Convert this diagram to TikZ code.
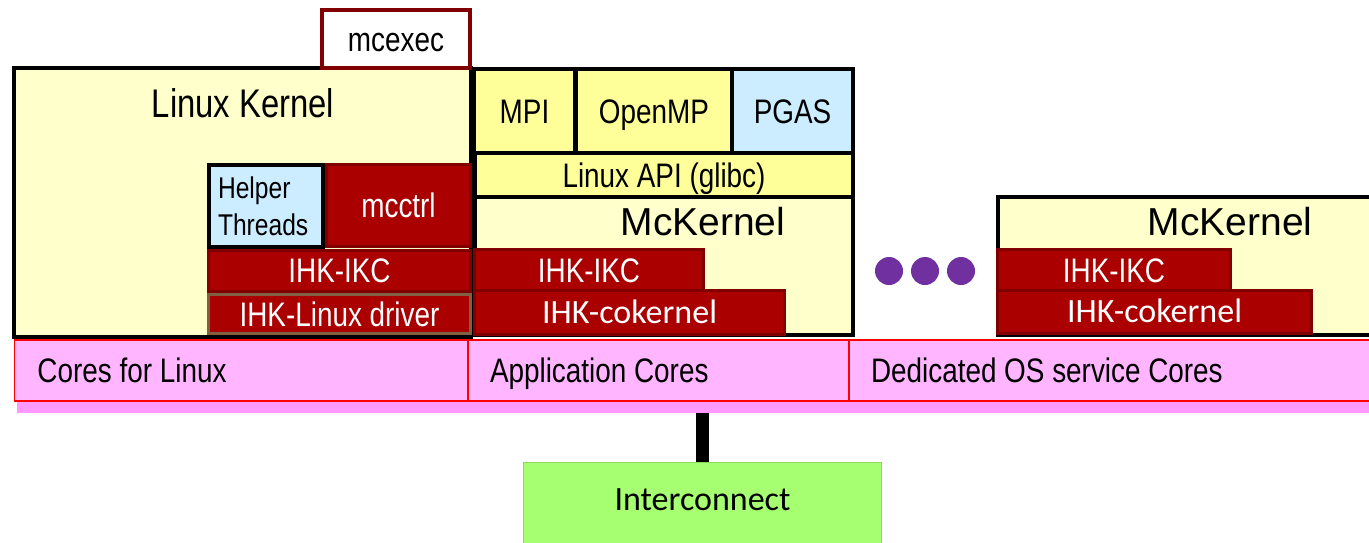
\documentclass[tikz,border=0pt]{standalone}
\usepackage{fontspec}
\setmainfont{Liberation Sans}
\newfontfamily\narrowfont[FakeStretch=0.82]{Liberation Sans}
\newfontfamily\califont{Carlito}
\usetikzlibrary{positioning}

\definecolor{kyellow}{HTML}{FFFFCC}
\definecolor{myellow}{HTML}{FFFF99}
\definecolor{hblue}{HTML}{CCECFF}
\definecolor{ihkred}{HTML}{AA0000}
\definecolor{ihkdark}{HTML}{800000}
\definecolor{drvbrown}{HTML}{806040}
\definecolor{corepink}{HTML}{FFB5FF}
\definecolor{shadowpink}{HTML}{FF99FF}
\definecolor{corered}{HTML}{FF0000}
\definecolor{dotpurple}{HTML}{7030A0}
\definecolor{icgreen}{HTML}{A6FF70}
\definecolor{icedge}{HTML}{8CD960}

\begin{document}
\begin{tikzpicture}[
  x = 1pt, y = -1pt,
  every node/.style = {inner sep = 0pt, outer sep = 0pt},
  narrow/.style = {font = \narrowfont\fontsize{34}{40}\selectfont,
                   text height = 24.3pt, text depth = 0pt},
  kbox/.style = {draw = black, line width = 4pt},
  ihk/.style = {narrow, fill = ihkred, draw = ihkdark, line width = 3pt, text = white},
  coker/.style = {ihk, font = \califont\fontsize{34}{40}\selectfont, text height = 21.6pt},
  title/.style = {font = \fontsize{39}{46}\selectfont, text height = 28pt, text depth = 0pt},
  cell/.style = {draw = corered, fill = corepink, line width = 1.5pt},
  dot/.style = {circle, fill = dotpurple, minimum size = 28pt},
  ]
  \useasboundingbox (0,0) rectangle (1369,542);
  \clip (0,0) rectangle (1369,542);

  % Linux side
  \node[kbox, fill = kyellow, minimum width = 457, minimum height = 269] (lk) at (242.5,202.5) {};
  \node[narrow, font = \narrowfont\fontsize{40}{46}\selectfont, text height = 28.6pt] (lktitle) at (243,103.5) {Linux Kernel};
  \node[narrow, draw = ihkdark, fill = white, line width = 4pt,
        minimum width = 148, minimum height = 58] (mcexec) at (396,39) {mcexec};
  \node[ihk, minimum width = 144, minimum height = 82] (mcctrl) at (398.5,205.5) {mcctrl};
  \node[kbox, fill = hblue, minimum width = 114, minimum height = 82, align = left, text width = 96pt,
        font = \narrowfont\fontsize{30}{37}\selectfont] (helper) at (266,206) {Helper\\Threads};
  \node[ihk, minimum width = 262, minimum height = 41] (ikcl) at (339.5,270.5) {IHK-IKC};
  \node[ihk, draw = drvbrown, minimum width = 262, minimum height = 39] (drv) at (339.5,314) {IHK-Linux driver};

  % application side
  \node[narrow, kbox, fill = myellow, minimum width = 101, minimum height = 84] (mpi) at (524.5,111) {MPI};
  \node[narrow, kbox, fill = myellow, minimum width = 156, minimum height = 84] (openmp) at (654,111) {OpenMP};
  \node[narrow, kbox, fill = hblue, minimum width = 121, minimum height = 84] (pgas) at (792.5,111) {PGAS};
  \node[narrow, kbox, fill = myellow, minimum width = 378, minimum height = 44] (api) at (664,175) {Linux API (glibc)};
  \node[kbox, fill = kyellow, minimum width = 378, minimum height = 138] (mck) at (664,266) {};
  \node[title] (mcktitle) at (703,221.5) {McKernel};
  \node[ihk, minimum width = 229, minimum height = 41] (ikcm) at (589,270) {IHK-IKC};
  \node[coker, minimum width = 310, minimum height = 44] (cokm) at (629.5,312.5) {IHK-cokernel};

  % dedicated side
  \foreach \i in {0,1,2}
    \node[dot] (dot\i) at (889+36*\i,271) {};
  \node[kbox, fill = kyellow, minimum width = 402, minimum height = 138] (mckr) at (1199,266) {};
  \node[title] (mckrtitle) at (1230,221.5) {McKernel};
  \node[ihk, minimum width = 233, minimum height = 41] (ikcr) at (1114,270) {IHK-IKC};
  \node[coker, minimum width = 314, minimum height = 43] (cokr) at (1154.5,312) {IHK-cokernel};

  % cores
  \node[fill = shadowpink, minimum width = 1400, minimum height = 12, anchor = north west] (shadow) at (17,401) {};
  \node[cell, minimum width = 453.5, minimum height = 61] (clin) at (241.25,370.5) {};
  \node[cell, minimum width = 381, minimum height = 61] (capp) at (658.5,370.5) {};
  \node[cell, minimum width = 551, minimum height = 61] (cded) at (1124.5,370.5) {};
  \node[narrow, right = 23pt of clin.west] (clintext) {Cores for Linux};
  \node[narrow, right = 22pt of capp.west] (capptext) {Application Cores};
  \node[narrow, right = 22pt of cded.west] (cdedtext) {Dedicated OS service Cores};

  % interconnect
  \node[fill = icgreen, draw = icedge, line width = 1pt, minimum width = 358, minimum height = 82,
        font = \califont\fontsize{34}{40}\selectfont, text height = 21.6pt, text depth = 6pt] (ic) at (702.5,503) {Interconnect};
  \draw[line width = 13pt] (shadow.south -| ic.north) -- (ic.north);
\end{tikzpicture}
\end{document}
